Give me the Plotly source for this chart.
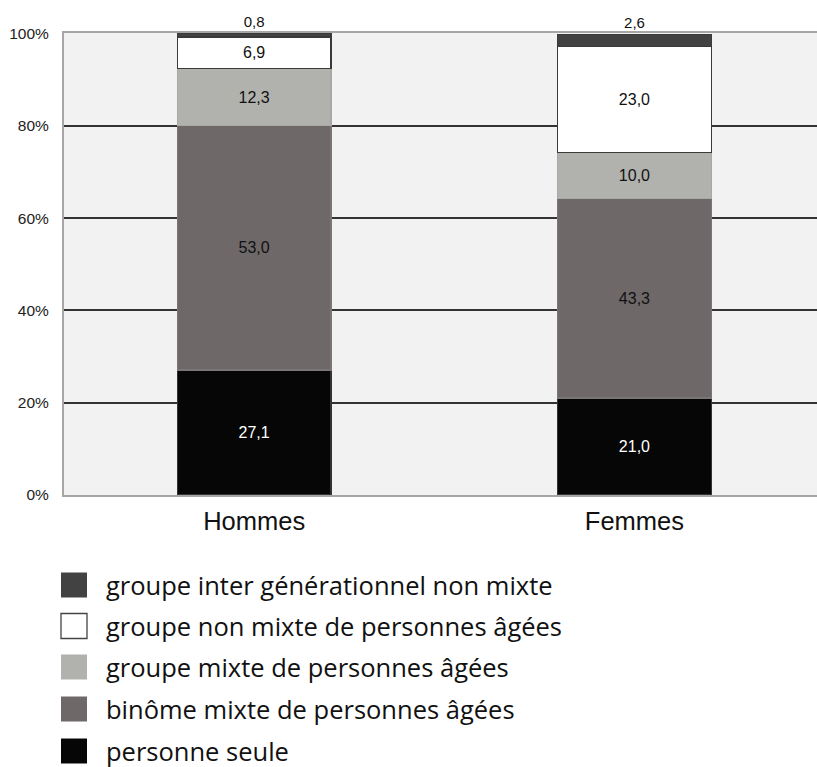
import plotly.graph_objects as go

categories = ["Hommes", "Femmes"]

series = [
    "personne seule",
    "binôme mixte de personnes âgées",
    "groupe mixte de personnes âgées",
    "groupe non mixte de personnes âgées",
    "groupe inter générationnel non mixte",
]
values = [
    [27.1, 21.0],
    [53.0, 43.3],
    [12.3, 10.0],
    [6.9, 23.0],
    [0.8, 2.6],
]
colors = ["#060606", "#6e6869", "#b1b1ae", "#ffffff", "#424242"]
outlines = ["#333333", "#7a7677", "#a8a8a6", "#3a3a3a", "#3a3a3a"]
text_colors = ["#ffffff", "#111111", "#111111", "#111111", "#111111"]

W, H = 817, 767
L, R, T, B = 64, 0, 33, 272
pw, ph = W - L - R, H - T - B


def px(x):
    return (x - L) / pw


def py(y):
    return (H - B - y) / ph


fig = go.Figure()
for i, name in enumerate(series):
    last = i == len(series) - 1
    fig.add_trace(go.Bar(
        x=categories,
        y=values[i],
        name=name,
        width=0.404,
        marker=dict(color=colors[i], line=dict(color=outlines[i], width=1.3)),
        texttemplate="%{y:.1f}",
        textposition="outside" if last else "inside",
        insidetextanchor="middle",
        textfont=dict(size=15 if last else 16, color=text_colors[i], family="Liberation Sans, Arial"),
        cliponaxis=False,
        showlegend=False,
    ))

# legend drawn by hand to get the large square swatches
row_y = [585, 626, 667, 709, 751]
shapes = []
annotations = []
for k, idx in enumerate(reversed(range(len(series)))):
    yc = row_y[k]
    shapes.append(dict(
        type="rect", xref="paper", yref="paper",
        x0=px(61), x1=px(87), y0=py(yc - 12.5), y1=py(yc + 12.5),
        fillcolor=colors[idx], line=dict(color="#444444", width=1.3 if colors[idx] == "#ffffff" else 0),
    ))
    annotations.append(dict(
        xref="paper", yref="paper", x=px(104), y=py(yc),
        xanchor="left", yanchor="middle", showarrow=False,
        text=series[idx], font=dict(size=25.5, color="#111111", family="Open Sans"),
    ))

fig.update_layout(
    width=W, height=H,
    margin=dict(l=L, r=R, t=T, b=B),
    barmode="stack",
    separators=", ",
    paper_bgcolor="white",
    plot_bgcolor="#f2f2f2",
    font=dict(family="Liberation Sans, Arial", color="#222222"),
    shapes=shapes,
    annotations=annotations,
)
fig.update_xaxes(
    range=[-0.5, 1.48],
    showline=True, linecolor="#a6a6a6", linewidth=2, mirror=True,
    showgrid=False, ticks="outside", ticklen=2, tickcolor="rgba(0,0,0,0)",
    tickfont=dict(size=25.5, color="#111111"),
)
fig.update_yaxes(
    range=[0, 100.15],
    tickvals=[0, 20, 40, 60, 80, 100],
    ticktext=["0%", "20%", "40%", "60%", "80%", "100%"],
    showline=True, linecolor="#a6a6a6", linewidth=2,
    showgrid=True, gridcolor="#333333", gridwidth=1.5,
    ticks="outside", ticklen=10, tickcolor="rgba(0,0,0,0)",
    tickfont=dict(size=15.5, color="#222222"),
    zeroline=False,
)

fig.write_html("out.html", config={"displayModeBar": False},
               post_script="document.body.style.margin='0';")
